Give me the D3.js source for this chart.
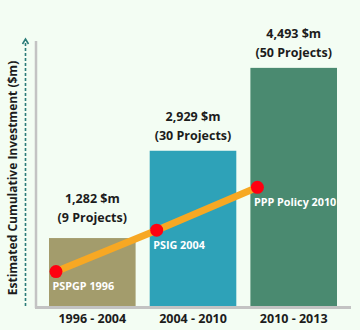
<!DOCTYPE html>
<html>
<head>
<meta charset="utf-8">
<script src="https://cdn.jsdelivr.net/npm/d3@7"></script>
<style>
  body { margin: 0; background: #f3fdf3; }
  svg { display: block; font-family: "Open Sans", Lato, sans-serif; }
</style>
</head>
<body>
<svg id="chart" width="360" height="330"></svg>
<script>
// periods on the x axis
var periods = ["1996 - 2004", "2004 - 2010", "2010 - 2013"];
var investment = [1282, 2929, 4493];          // cumulative $m
var projects = [9, 30, 50];
var barColors = ["#a39c6c", "#2ea2b8", "#4a8a70"];

// policy milestones, plotted on the same value scale
var milestones = ["PSPGP 1996", "PSIG 2004", "PPP Policy 2010"];
var milestoneLevel = [650, 1430, 2240];

var svg = d3.select("#chart");
var yBottom = 306, yTop = 41;

var x = d3.scaleBand().domain(periods).range([49, 337]).paddingInner(0.14).paddingOuter(0);
var y = d3.scaleLinear().domain([0, 5000]).range([yBottom, yTop]);

// bars
svg.selectAll("rect.bar")
  .data(periods)
  .enter().append("rect")
  .attr("class", "bar")
  .attr("x", d => x(d))
  .attr("y", (d, i) => y(investment[i]))
  .attr("width", x.bandwidth())
  .attr("height", (d, i) => yBottom - y(investment[i]))
  .attr("fill", (d, i) => barColors[i]);

// value labels above the bars
var lbl = svg.selectAll("g.lbl")
  .data(periods)
  .enter().append("g")
  .attr("class", "lbl")
  .attr("transform", (d, i) => `translate(${x(d) + x.bandwidth() / 2}, ${y(investment[i])})`)
  .attr("text-anchor", "middle")
  .attr("font-weight", "bold")
  .attr("font-size", 12.5)
  .attr("fill", "#1c1c1c");
lbl.append("text").attr("y", (d, i) => i == 0 ? -35 : -30)
  .text((d, i) => d3.format(",")(investment[i]) + " $m");
lbl.append("text").attr("y", (d, i) => i == 0 ? -16 : -11)
  .text((d, i) => "(" + projects[i] + " Projects)");

// axes (plain gray lines)
svg.append("line").attr("x1", 36).attr("x2", 36).attr("y1", yTop).attr("y2", yBottom + 2)
  .attr("stroke", "#c3c3c3").attr("stroke-width", 2.5);
svg.append("line").attr("x1", 35).attr("x2", 351).attr("y1", yBottom + 1.5).attr("y2", yBottom + 1.5)
  .attr("stroke", "#c3c3c3").attr("stroke-width", 3);

// x labels
svg.selectAll("text.xl")
  .data(periods)
  .enter().append("text")
  .attr("class", "xl")
  .attr("x", d => x(d) + x.bandwidth() / 2)
  .attr("y", 323)
  .attr("text-anchor", "middle")
  .attr("font-weight", "bold")
  .attr("font-size", 12.5)
  .attr("fill", "#1c1c1c")
  .text(d => d);

// dashed arrow and y title
svg.append("line").attr("x1", 25.5).attr("x2", 25.5).attr("y1", 306).attr("y2", 40)
  .attr("stroke", "#2a7b78").attr("stroke-width", 1.6).attr("stroke-dasharray", "3,2");
svg.append("path").attr("d", "M22.5,44 L25.5,39 L28.5,44")
  .attr("fill", "none").attr("stroke", "#2a7b78").attr("stroke-width", 1.6);
svg.append("text")
  .attr("transform", "translate(17, 178) rotate(-90)")
  .attr("text-anchor", "middle")
  .attr("font-weight", "bold")
  .attr("font-size", 12)
  .attr("fill", "#1c1c1c")
  .text("Estimated Cumulative Investment ($m)");

// milestone line
var pts = periods.map((d, i) => [x(d) + 7, y(milestoneLevel[i])]);
svg.append("path")
  .datum(pts)
  .attr("d", d3.line())
  .attr("fill", "none")
  .attr("stroke", "#f7a823")
  .attr("stroke-width", 7);
svg.selectAll("circle.m")
  .data(pts)
  .enter().append("circle")
  .attr("class", "m")
  .attr("cx", d => d[0]).attr("cy", d => d[1]).attr("r", 6.5)
  .attr("fill", "#ff0010");
svg.selectAll("text.ml")
  .data(pts)
  .enter().append("text")
  .attr("class", "ml")
  .attr("x", d => d[0] - 3.5)
  .attr("y", d => d[1] + 18.5)
  .attr("font-weight", "bold")
  .attr("font-size", 10.8)
  .attr("fill", "#ffffff")
  .text((d, i) => milestones[i]);
</script>
</body>
</html>
